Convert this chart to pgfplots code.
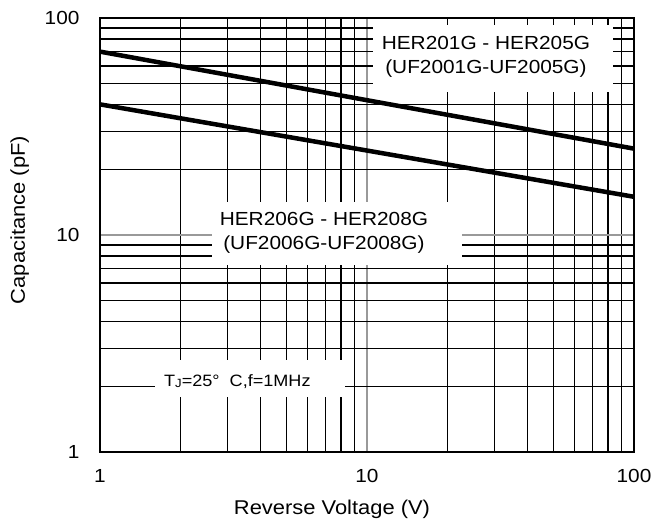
\documentclass[border=0pt]{standalone}
\usepackage{fontspec}
\setmainfont{Liberation Sans}[FakeStretch=1.1]
\usepackage{pgfplots}
\pgfplotsset{compat=1.18}
\begin{document}
\begin{tikzpicture}
\begin{loglogaxis}[
  scale only axis, width=534bp, height=434bp,
  xmin=1, xmax=100, ymin=1, ymax=100,
  xtick={1,10,100}, xticklabels={1,10,100},
  ytick={1,10,100}, yticklabels={1,10,100},
  minor xtick={2,3,4,5,6,7,8,9,20,30,40,50,60,70,80,90},
  minor ytick={2,3,4,5,6,7,8,9,20,30,40,50,60,70,80,90},
  grid=both,
  major grid style={draw=black!40, line width=1.3bp},
  minor grid style={draw=black, line width=1.3bp},
  major tick length=0pt, minor tick length=0pt,
  axis line style={line width=1.6bp},
  /pgf/number format/assume math mode=true,
  tick label style={font=\fontsize{19}{20}\selectfont},
  xticklabel style={yshift=-14bp},
  yticklabel style={xshift=-17bp},
  label style={font=\fontsize{20}{22}\selectfont},
  xlabel={Reverse Voltage (V)},
  ylabel={Capacitance (pF)},
  xlabel style={yshift=-10bp, xshift=-35bp},
  ylabel style={yshift=9bp, xshift=15bp},
]
\addplot[black, line width=4.5bp] coordinates {(1,70) (10,41.8) (100,25)};
\addplot[black, line width=4.5bp] coordinates {(1,40) (10,24.5) (100,15)};
\fill[white] (axis cs:10.5,45.6) rectangle (axis cs:83.5,93);
\node[align=center, font=\fontsize{19}{24}\selectfont] at (axis cs:27.9,66.5) {HER201G - HER205G\\(UF2001G-UF2005G)};
\fill[white] (axis cs:2.63,7.3) rectangle (axis cs:22.7,14.2);
\node[align=center, font=\fontsize{19}{24}\selectfont] at (axis cs:6.9,10.2) {HER206G - HER208G\\(UF2006G-UF2008G)};
\fill[white] (axis cs:1.61,1.79) rectangle (axis cs:8.27,2.65);
\node[font=\fontsize{16.5}{18}\selectfont] at (axis cs:3.27,2.12) {T{\fontsize{12}{12}\selectfont\raisebox{-1bp}{J}}=25°\ \ C,f=1MHz};
\end{loglogaxis}
\pgfresetboundingbox
\path[use as bounding box] ([xshift=-100bp,yshift=-70bp]current axis.south west) rectangle ([xshift=20bp,yshift=18bp]current axis.north east);
\end{tikzpicture}
\end{document}
